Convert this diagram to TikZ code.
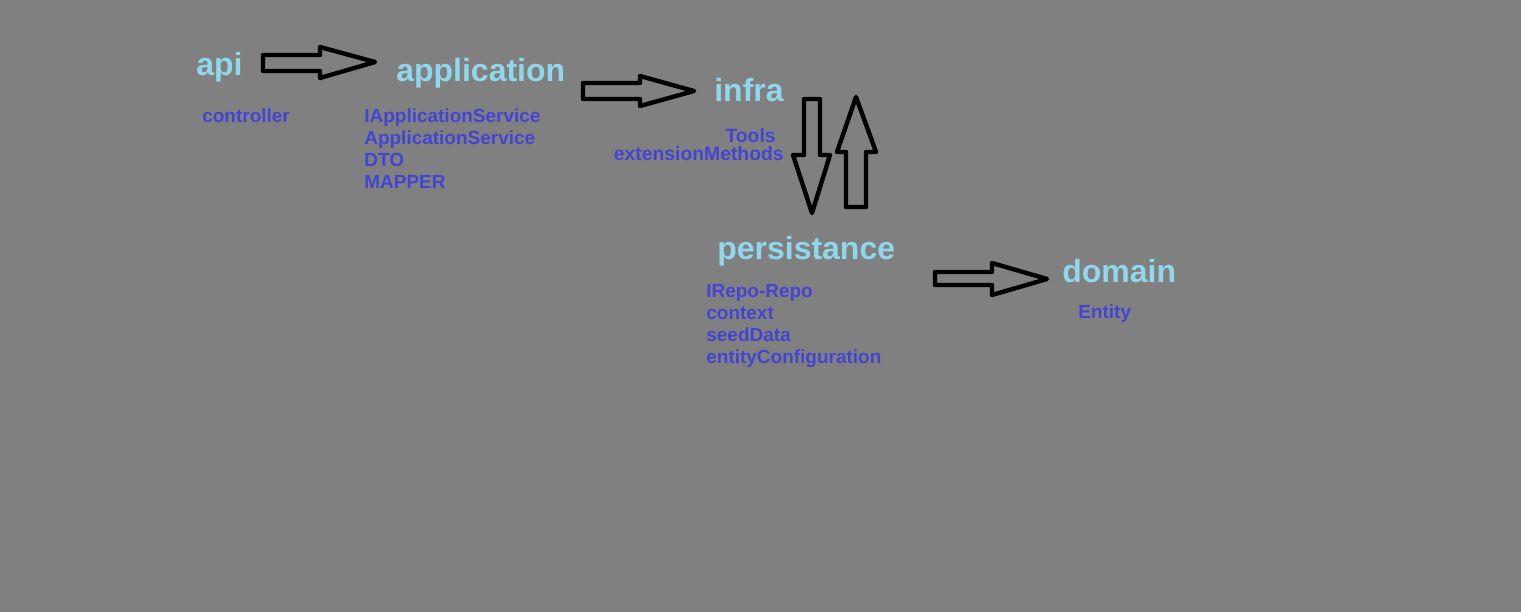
\documentclass[tikz,border=0pt]{standalone}
\usepackage{fontspec}
\setmainfont{Liberation Sans}
\definecolor{layerblue}{RGB}{145,215,235}
\definecolor{itemblue}{RGB}{68,68,210}
\definecolor{bggray}{RGB}{128,128,128}
\begin{document}
\begin{tikzpicture}[x=0.02cm, y=-0.02cm,
    layer/.style={anchor=base west, inner sep=0pt, text=layerblue, font=\bfseries\fontsize{18.2}{20}\selectfont},
    items/.style={anchor=base west, inner sep=0pt, align=left, text=itemblue, font=\bfseries\fontsize{10.8}{12.5}\selectfont},
    blockarrow/.style={draw=black, line width=2.5pt, line join=round}]
            \fill[bggray] (0, 0) rectangle (1521, 612);
            \useasboundingbox (0, 0) rectangle (1521, 612);

            \node[layer] (api) at (196, 75) {api};
            \node[layer] (application) at (396, 81) {application};
            \node[layer] (infra) at (714, 101) {infra};
            \node[layer] (persistance) at (717, 259) {persistance};
            \node[layer] (domain) at (1062, 282) {domain};

            \node[items] (apiitems) at (202, 122) {controller};
            \node[items] (appitems) at (364, 188) {IApplicationService\\ApplicationService\\DTO\\MAPPER};
            \node[items, anchor=base east, align=right, font=\bfseries\fontsize{11}{10}\selectfont] (infraitems) at (784, 160) {Tools\hspace*{0.16cm}\\extensionMethods};
            \node[items] (persitems) at (706, 363) {IRepo-Repo\\context\\seedData\\entityConfiguration};
            \node[items] (domainitems) at (1078, 318) {Entity};

            \draw[blockarrow] (263, 55) -- (320, 55) -- (320, 47) -- (375, 62) -- (320, 78) -- (320, 71) -- (263, 71) -- cycle;
            \draw[blockarrow] (583, 83) -- (640, 83) -- (640, 76) -- (694, 91) -- (640, 106) -- (640, 99) -- (583, 99) -- cycle;
            \draw[blockarrow] (804, 99) -- (820, 99) -- (820, 155) -- (830, 155) -- (812, 213) -- (793, 155) -- (804, 155) -- cycle;
            \draw[blockarrow] (856, 97) -- (876, 152) -- (866, 152) -- (866, 207) -- (846, 207) -- (846, 152) -- (837, 152) -- cycle;
            \draw[blockarrow] (935, 272) -- (992, 272) -- (992, 263) -- (1047, 279) -- (992, 295) -- (992, 285) -- (935, 285) -- cycle;
\end{tikzpicture}
\end{document}
